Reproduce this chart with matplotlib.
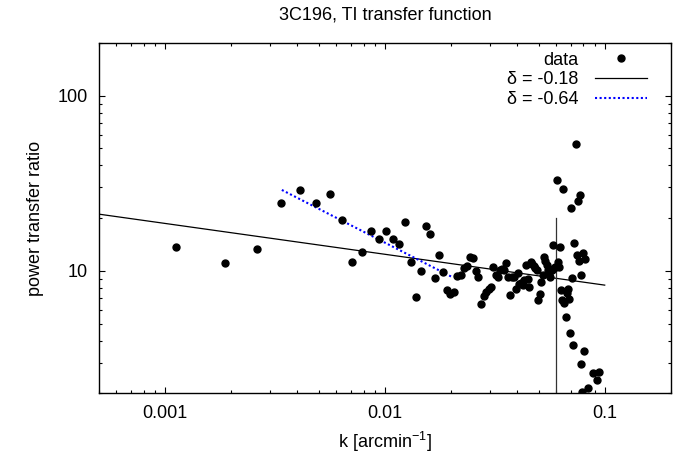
import matplotlib
matplotlib.use("Agg")
import matplotlib.pyplot as plt
from matplotlib.ticker import FuncFormatter, NullFormatter

plt.rcParams['font.family'] = ['Liberation Sans', 'DejaVu Sans']
plt.rcParams['mathtext.fontset'] = 'custom'
plt.rcParams['mathtext.rm'] = 'Liberation Sans'
plt.rcParams['mathtext.default'] = 'rm'

# wavenumber k [arcmin^-1] and power transfer ratio
k = [0.001125, 0.001875, 0.002625, 0.003375, 0.004125, 0.004875, 0.005625,
     0.006375, 0.007125, 0.007875, 0.008625, 0.009375, 0.010125, 0.010875,
     0.011625, 0.012375, 0.013125, 0.013875, 0.014625, 0.015375, 0.016125,
     0.016875, 0.017625, 0.018375, 0.019125, 0.019875, 0.020625, 0.021375,
     0.022125, 0.022875, 0.023625, 0.024375, 0.025125, 0.025875, 0.026625,
     0.027375, 0.028125, 0.028875, 0.029625, 0.030375, 0.031125, 0.031875,
     0.032625, 0.033375, 0.034125, 0.034875, 0.035625, 0.036375, 0.037125,
     0.037875, 0.038625, 0.039375, 0.040125, 0.040875, 0.041625, 0.042375,
     0.043125, 0.043875, 0.044625, 0.045375, 0.046125, 0.046875, 0.047625,
     0.048375, 0.049125, 0.049875, 0.050625, 0.051375, 0.052125, 0.052875,
     0.053625, 0.054375, 0.055125, 0.055875, 0.056625, 0.057375, 0.058125,
     0.058875, 0.059625, 0.060375, 0.061125, 0.061875, 0.062625, 0.063375,
     0.064125, 0.064875, 0.065625, 0.066375, 0.067125, 0.067875, 0.068625,
     0.069375, 0.070125, 0.070875, 0.071625, 0.072375, 0.073875, 0.074625,
     0.075375, 0.076125, 0.076875, 0.077625, 0.078375, 0.079125, 0.079875,
     0.080625, 0.081375, 0.083625, 0.088125, 0.092625, 0.094125]
ratio = [13.7, 11.06, 13.35, 24.3, 29.0, 24.5, 27.6,
         19.6, 11.3, 12.8, 17.0, 15.3, 16.8, 15.2,
         14.3, 19.0, 11.3, 7.14, 10.04, 18.0, 16.3,
         9.12, 12.3, 9.91, 7.82, 7.36, 7.56, 9.36,
         9.53, 10.36, 10.68, 12.0, 11.9, 10.0, 9.28,
         6.48, 7.15, 7.54, 7.86, 8.14, 10.6, 9.49,
         9.18, 10.13, 10.27, 10.13, 11.15, 9.2, 7.27,
         9.2, 9.28, 7.93, 9.7, 8.38, 8.58, 8.32,
         8.89, 10.82, 9.04, 8.07, 11.25, 10.96, 10.61,
         10.36, 10.13, 6.79, 7.39, 8.66, 9.49, 12.0,
         11.4, 10.82, 10.13, 9.74, 9.24, 10.13, 14.0,
         10.36, 10.54, 32.9, 11.3, 10.58, 13.7, 7.74,
         6.79, 29.2, 6.54, 5.43, 7.52, 7.92, 6.9,
         4.45, 22.8, 9.16, 3.76, 14.4, 52.8, 12.3,
         25.0, 11.45, 27.1, 2.95, 9.49, 2.04, 12.7,
         3.51, 11.66, 2.14, 2.63, 2.37, 2.66]

# power-law fits
fit1_k = [0.0005, 0.1]
fit1_r = [21.1, 8.3]
fit2_k = [0.0034, 0.0202]
fit2_r = [29.0, 9.24]

# cut-off marker
cut_k = 0.06
cut_r = [2.0, 20.0]

fig, ax = plt.subplots(figsize=(6.92, 4.59), dpi=100)
ax.set_position([0.1428, 0.1429, 0.8267, 0.7634])

ax.plot(k, ratio, 'o', color='black', markersize=5, label='data', zorder=3)
ax.plot(fit1_k, fit1_r, '-', color='black', lw=0.9, label='δ = -0.18')
ax.plot(fit2_k, fit2_r, color='#0000ff', lw=1.5, linestyle=(0, (1, 1.2)),
        label='δ = -0.64')
ax.plot([cut_k, cut_k], cut_r, '-', color='#333333', lw=0.9)

ax.set_xscale('log')
ax.set_yscale('log')
ax.set_xlim(0.0005, 0.2)
ax.set_ylim(2, 200)

fmt = FuncFormatter(lambda v, _: f'{v:g}')
ax.xaxis.set_major_formatter(fmt)
ax.yaxis.set_major_formatter(fmt)
ax.xaxis.set_minor_formatter(NullFormatter())
ax.yaxis.set_minor_formatter(NullFormatter())
ax.tick_params(which='both', direction='in', top=True, right=True,
               labelsize=13, width=0.8)
ax.tick_params(which='major', length=4.3, pad=8)
ax.tick_params(which='minor', length=2.2)
for s in ax.spines.values():
    s.set_linewidth(1.0)

ax.set_title('3C196, TI transfer function', fontsize=13, pad=17)
ax.set_xlabel(r'k [arcmin$^{-1}$]', fontsize=13, labelpad=6)
ax.set_ylabel('power transfer ratio', fontsize=13, labelpad=10)

ax.legend(markerfirst=False, frameon=False, loc='upper right',
          bbox_to_anchor=(0.958, 0.975), borderpad=0, borderaxespad=0,
          fontsize=13, handlelength=2.9, handletextpad=0.9,
          labelspacing=0.14, numpoints=1)

fig.savefig('out.png', dpi=100)
